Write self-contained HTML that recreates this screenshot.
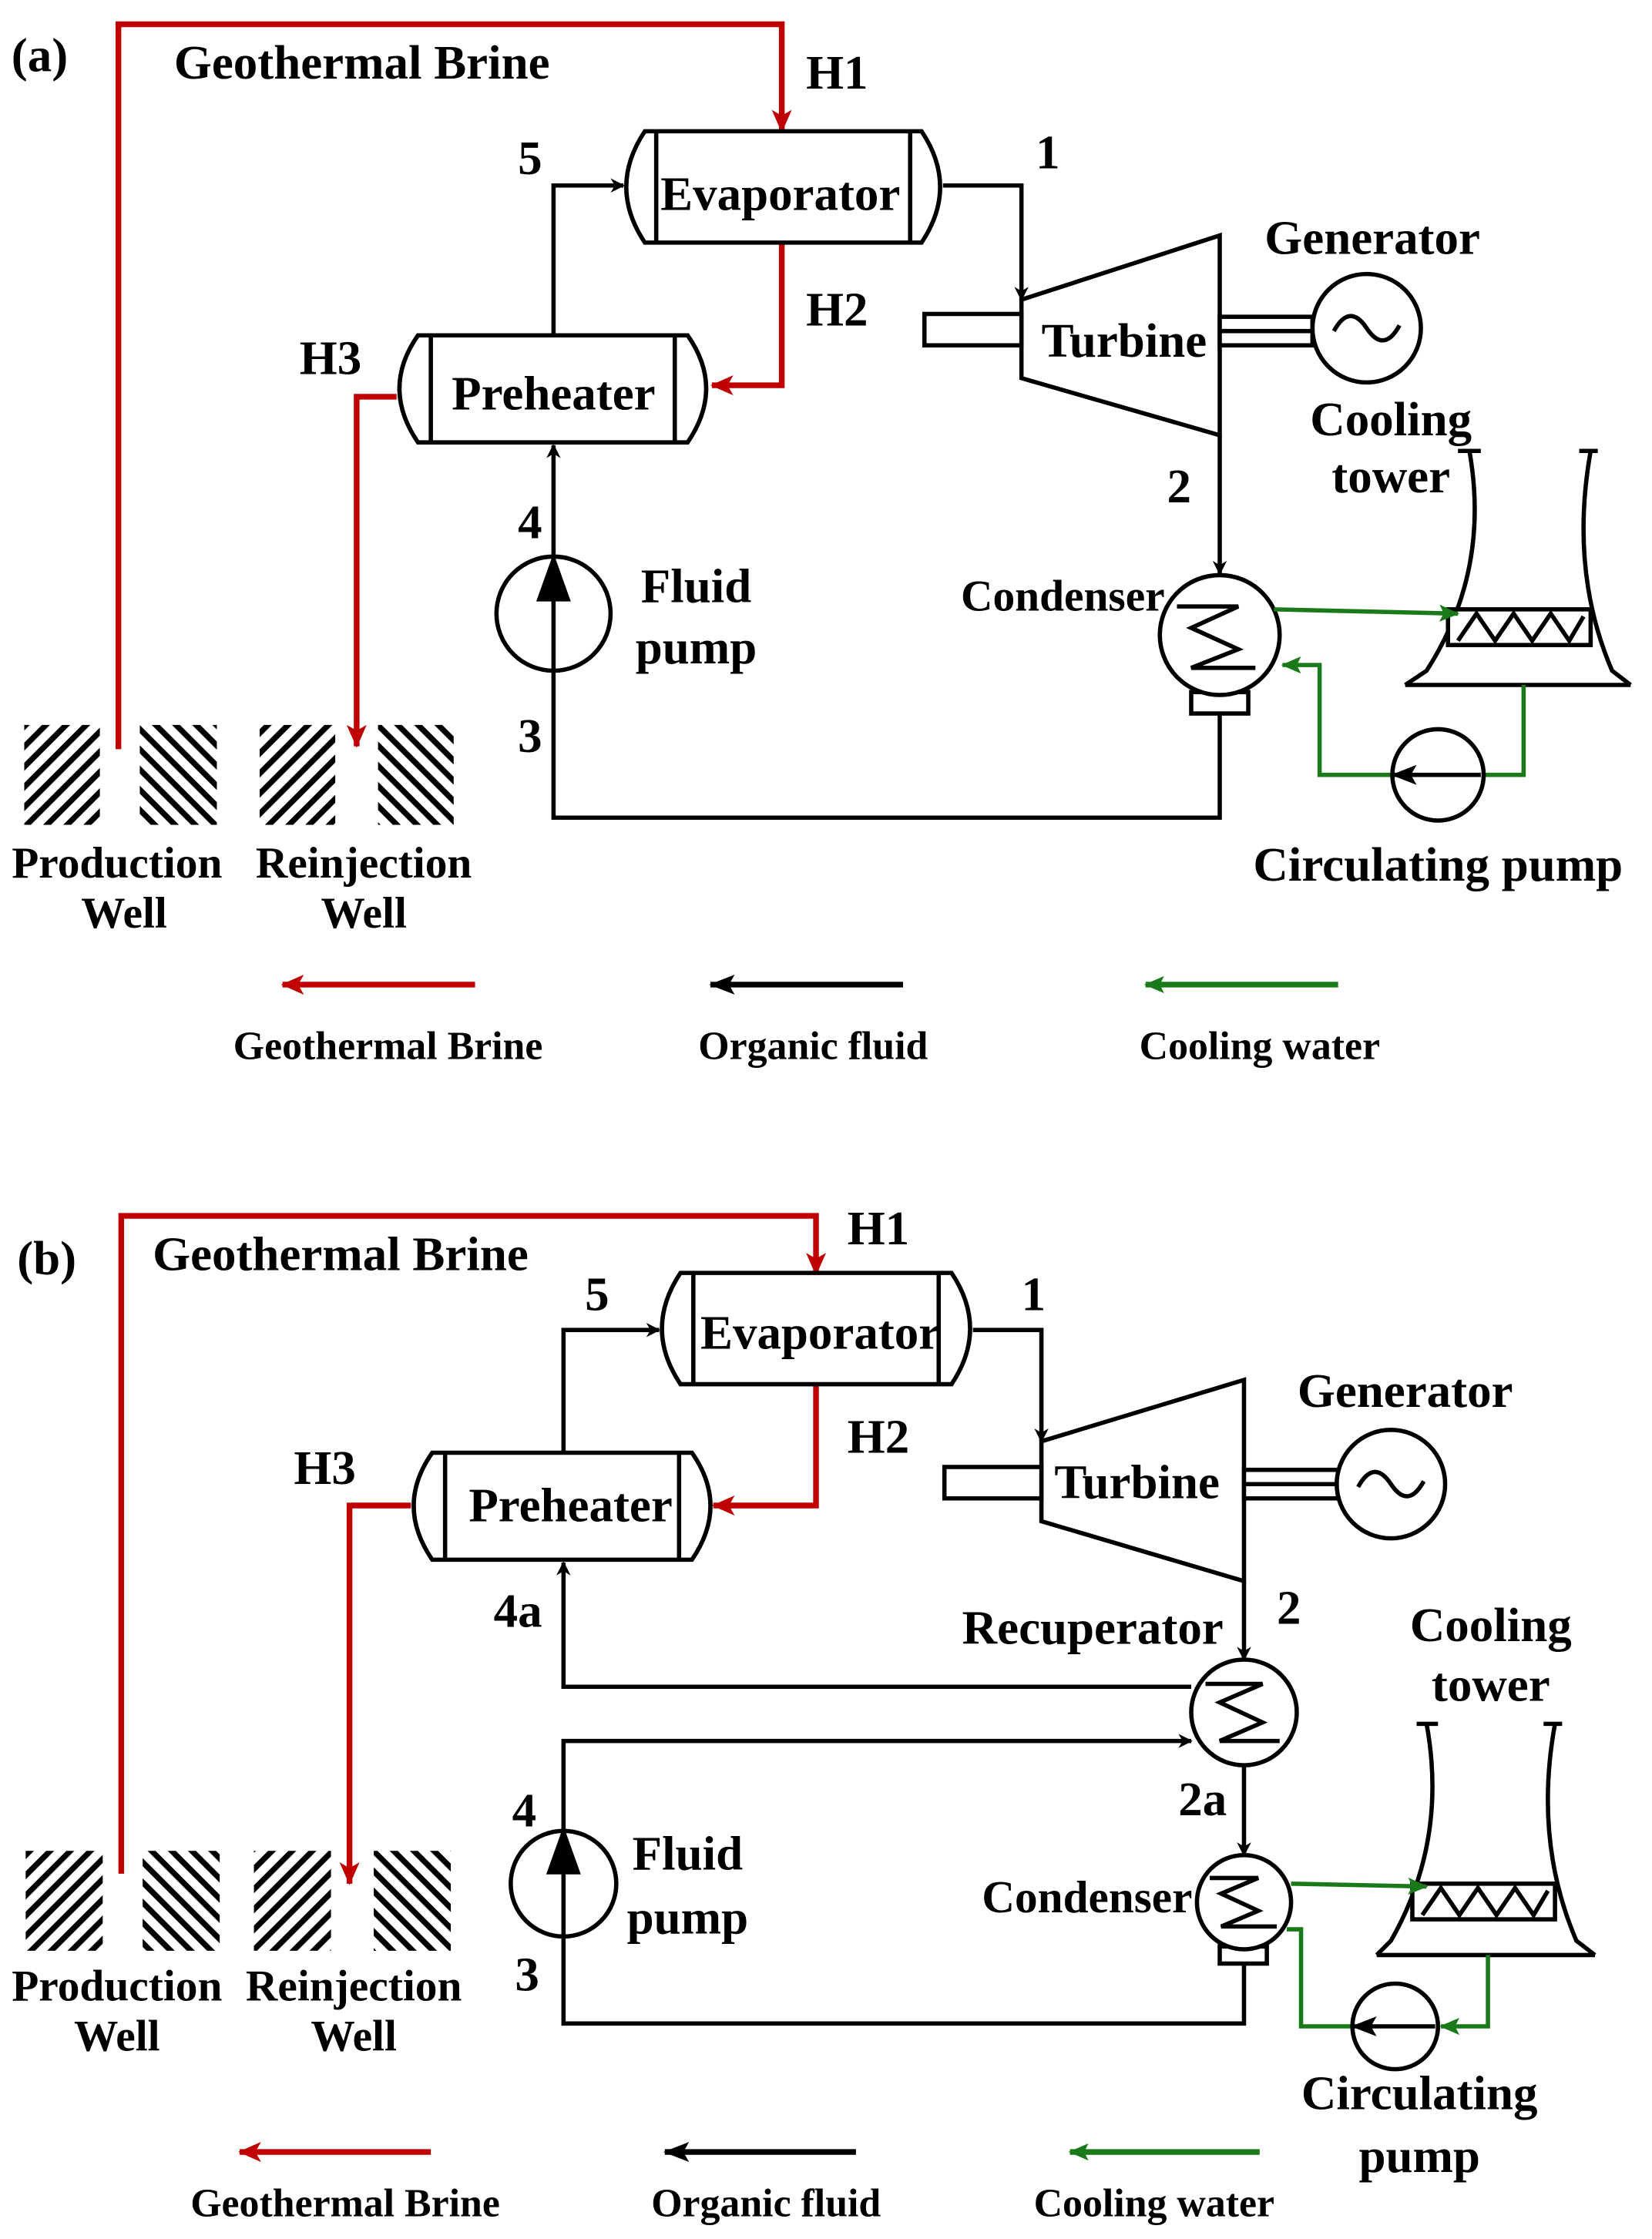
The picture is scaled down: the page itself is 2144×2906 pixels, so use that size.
<!DOCTYPE html>
<html><head><meta charset="utf-8"><style>
html,body{margin:0;padding:0;background:#fff;}
svg{display:block;}
text{font-family:"Liberation Serif",serif;font-weight:bold;fill:#000;}
</style></head><body>
<svg width="2144" height="2906" viewBox="0 0 1158 1569" preserveAspectRatio="none" xmlns="http://www.w3.org/2000/svg">
<defs>
<marker id="ak" markerWidth="10" markerHeight="10" refX="9" refY="5" orient="auto" markerUnits="userSpaceOnUse"><path d="M0,0 L10,5 L0,10 L3,5 Z" fill="#000"/></marker>
<marker id="ar" markerWidth="16" markerHeight="14" refX="15" refY="7" orient="auto" markerUnits="userSpaceOnUse"><path d="M0,0 L16,7 L0,14 L4,7 Z" fill="#c00000"/></marker>
<marker id="ag" markerWidth="14" markerHeight="12" refX="13" refY="6" orient="auto" markerUnits="userSpaceOnUse"><path d="M0,0 L14,6 L0,12 L3,6 Z" fill="#1a7a1a"/></marker>
<marker id="akb" markerWidth="18" markerHeight="14" refX="17" refY="7" orient="auto" markerUnits="userSpaceOnUse"><path d="M0,0 L18,7 L0,14 L4,7 Z" fill="#000"/></marker>
<pattern id="h1" width="10" height="10" patternUnits="userSpaceOnUse" patternTransform="rotate(-45)"><rect width="10" height="10" fill="#fff"/><rect width="10" height="4" fill="#000"/></pattern>
<pattern id="h2" width="10" height="10" patternUnits="userSpaceOnUse" patternTransform="rotate(45)"><rect width="10" height="10" fill="#fff"/><rect width="10" height="4" fill="#000"/></pattern>
</defs>

<g fill="none" stroke="#000" stroke-width="3">
<!-- ============ PANEL A ============ -->
<rect x="17" y="508" width="53" height="70" fill="url(#h1)" stroke="none"/>
<rect x="98" y="508" width="54" height="70" fill="url(#h2)" stroke="none"/>
<rect x="182" y="508" width="53" height="70" fill="url(#h1)" stroke="none"/>
<rect x="265" y="508" width="53" height="70" fill="url(#h2)" stroke="none"/>
<polyline points="83,525 83,17 548,17 548,92" stroke="#c00000" stroke-width="4" marker-end="url(#ar)"/>
<polyline points="548,170 548,270 499,270" stroke="#c00000" stroke-width="4" marker-end="url(#ar)"/>
<polyline points="278,278 250,278 250,523" stroke="#c00000" stroke-width="4" marker-end="url(#ar)"/>
<path d="M452,92 L646,92 Q672,131 646,170 L452,170 Q426,131 452,92 Z" fill="#fff"/>
<line x1="460" y1="92" x2="460" y2="170"/><line x1="638" y1="92" x2="638" y2="170"/>
<path d="M293,235 L482,235 Q508,272 482,310 L293,310 Q267,272 293,235 Z" fill="#fff"/>
<line x1="302" y1="235" x2="302" y2="310"/><line x1="473" y1="235" x2="473" y2="310"/>
<polyline points="661,130 716,130 716,210" marker-end="url(#ak)"/>
<polyline points="388,235 388,130 437,130" marker-end="url(#ak)"/>
<polyline points="388,390 388,312" marker-end="url(#ak)"/>
<polyline points="388,470 388,573 855,573 855,500"/>
<polyline points="855,305 855,402" marker-end="url(#ak)"/>
<polygon points="716,210 855,165 855,305 716,265" fill="#fff"/>
<rect x="648" y="220" width="68" height="22" fill="#fff"/>
<rect x="855" y="222" width="65" height="20" fill="#fff"/>
<line x1="855" y1="232" x2="920" y2="232"/>
<circle cx="958" cy="230" r="38" fill="#fff"/>
<path d="M935,232 Q946,212 958,230 Q970,248 981,228"/>
<circle cx="388" cy="430" r="40" fill="#fff"/>
<line x1="388" y1="470" x2="388" y2="405"/>
<path d="M378,420 L388,392 L398,420 Z" fill="#000"/>
<rect x="835" y="485" width="40" height="15" fill="#fff"/>
<circle cx="855" cy="445" r="42" fill="#fff"/>
<path d="M825,425 L868,425 L835,440 L868,455 L835,468 L880,468"/>
<path d="M1030,316 Q1045,400 1000,470 L985,480 M1115,316 Q1100,400 1130,470 L1143,480"/>
<line x1="1022" y1="316" x2="1038" y2="316"/><line x1="1107" y1="316" x2="1120" y2="316"/>
<line x1="985" y1="480" x2="1143" y2="480"/>
<rect x="1015" y="427" width="100" height="25" fill="#fff"/>
<path d="M1022,449 L1035,430 L1048,449 L1061,430 L1074,449 L1087,430 L1100,449 L1110,432"/>
<polyline points="893,427 1022,430" stroke="#1a7a1a" marker-end="url(#ag)"/>
<polyline points="1068,480 1068,543 1040,543" stroke="#1a7a1a"/>
<polyline points="976,543 925,543 925,466 899,466" stroke="#1a7a1a" marker-end="url(#ag)"/>
<circle cx="1008" cy="543" r="32" fill="#fff"/>
<line x1="1038" y1="543" x2="976" y2="543" marker-end="url(#akb)"/>
<line x1="333" y1="690" x2="198" y2="690" stroke="#c00000" stroke-width="4" marker-end="url(#ar)"/>
<line x1="633" y1="690" x2="498" y2="690" stroke-width="4" marker-end="url(#akb)"/>
<line x1="938" y1="690" x2="803" y2="690" stroke="#1a7a1a" stroke-width="4" marker-end="url(#ag)"/>

<!-- ============ PANEL B ============ -->
<rect x="18" y="1297" width="54" height="70" fill="url(#h1)" stroke="none"/>
<rect x="100" y="1297" width="54" height="70" fill="url(#h2)" stroke="none"/>
<rect x="178" y="1297" width="54" height="70" fill="url(#h1)" stroke="none"/>
<rect x="262" y="1297" width="54" height="70" fill="url(#h2)" stroke="none"/>
<polyline points="85,1313 85,852 572,852 572,893" stroke="#c00000" stroke-width="4" marker-end="url(#ar)"/>
<polyline points="572,970 572,1055 500,1055" stroke="#c00000" stroke-width="4" marker-end="url(#ar)"/>
<polyline points="288,1055 245,1055 245,1320" stroke="#c00000" stroke-width="4" marker-end="url(#ar)"/>
<path d="M477,892 L667,892 Q693,931 667,970 L477,970 Q451,931 477,892 Z" fill="#fff"/>
<line x1="486" y1="892" x2="486" y2="970"/><line x1="658" y1="892" x2="658" y2="970"/>
<path d="M303,1018 L485,1018 Q511,1055 485,1093 L303,1093 Q277,1055 303,1018 Z" fill="#fff"/>
<line x1="312" y1="1018" x2="312" y2="1093"/><line x1="476" y1="1018" x2="476" y2="1093"/>
<polyline points="682,932 730,932 730,1010" marker-end="url(#ak)"/>
<polyline points="395,1018 395,932 462,932" marker-end="url(#ak)"/>
<polyline points="835,1182 395,1182 395,1095" marker-end="url(#ak)"/>
<polyline points="395,1283 395,1220 835,1220" marker-end="url(#ak)"/>
<polyline points="872,1108 872,1163" marker-end="url(#ak)"/>
<polyline points="872,1237 872,1300" marker-end="url(#ak)"/>
<polyline points="395,1357 395,1418 872,1418 872,1376"/>
<polygon points="730,1010 872,967 872,1108 730,1066" fill="#fff"/>
<rect x="662" y="1028" width="68" height="22" fill="#fff"/>
<rect x="872" y="1030" width="66" height="20" fill="#fff"/>
<line x1="872" y1="1040" x2="938" y2="1040"/>
<circle cx="975" cy="1040" r="38" fill="#fff"/>
<path d="M952,1042 Q963,1022 975,1040 Q987,1058 998,1038"/>
<circle cx="872" cy="1200" r="37" fill="#fff"/>
<path d="M845,1180 L885,1180 L855,1193 L885,1207 L855,1220 L897,1220"/>
<circle cx="395" cy="1320" r="37" fill="#fff"/>
<line x1="395" y1="1357" x2="395" y2="1295"/>
<path d="M385,1312 L395,1284 L405,1312 Z" fill="#000"/>
<rect x="855" y="1364" width="33" height="12" fill="#fff"/>
<circle cx="872" cy="1333" r="33" fill="#fff"/>
<path d="M848,1316 L882,1316 L856,1327 L882,1339 L856,1350 L895,1350"/>
<path d="M1000,1208 Q1015,1290 975,1360 L965,1370 M1090,1208 Q1075,1290 1105,1360 L1118,1370"/>
<line x1="993" y1="1208" x2="1008" y2="1208"/><line x1="1082" y1="1208" x2="1095" y2="1208"/>
<line x1="965" y1="1370" x2="1118" y2="1370"/>
<rect x="990" y="1320" width="100" height="25" fill="#fff"/>
<path d="M997,1342 L1010,1323 L1023,1342 L1036,1323 L1049,1342 L1062,1323 L1075,1342 L1085,1325"/>
<polyline points="905,1320 1000,1322" stroke="#1a7a1a" marker-end="url(#ag)"/>
<polyline points="1043,1370 1043,1420 1010,1420" stroke="#1a7a1a" marker-end="url(#ag)"/>
<polyline points="902,1352 912,1352 912,1420 948,1420" stroke="#1a7a1a"/>
<circle cx="978" cy="1420" r="30" fill="#fff"/>
<line x1="1006" y1="1420" x2="948" y2="1420" marker-end="url(#akb)"/>
<line x1="302" y1="1508" x2="168" y2="1508" stroke="#c00000" stroke-width="4" marker-end="url(#ar)"/>
<line x1="600" y1="1508" x2="466" y2="1508" stroke-width="4" marker-end="url(#akb)"/>
<line x1="883" y1="1508" x2="750" y2="1508" stroke="#1a7a1a" stroke-width="4" marker-end="url(#ag)"/>
</g>

<g font-size="34">
<text x="8" y="50">(a)</text>
<text x="122" y="55">Geothermal Brine</text>
<text x="565" y="62">H1</text>
<text x="363" y="122">5</text>
<text x="726" y="118">1</text>
<text x="547" y="147" text-anchor="middle">Evaporator</text>
<text x="565" y="228">H2</text>
<text x="210" y="262">H3</text>
<text x="388" y="287" text-anchor="middle">Preheater</text>
<text x="788" y="250" text-anchor="middle">Turbine</text>
<text x="962" y="178" text-anchor="middle">Generator</text>
<text x="975" y="305" text-anchor="middle">Cooling</text>
<text x="975" y="345" text-anchor="middle">tower</text>
<text x="818" y="352">2</text>
<text x="363" y="377">4</text>
<text x="488" y="422" text-anchor="middle">Fluid</text>
<text x="488" y="465" text-anchor="middle">pump</text>
<text x="745" y="428" text-anchor="middle" font-size="31">Condenser</text>
<text x="363" y="527">3</text>
<text x="82" y="615" text-anchor="middle" font-size="31">Production</text>
<text x="87" y="650" text-anchor="middle" font-size="31">Well</text>
<text x="255" y="615" text-anchor="middle" font-size="31">Reinjection</text>
<text x="255" y="650" text-anchor="middle" font-size="31">Well</text>
<text x="1008" y="617" text-anchor="middle">Circulating pump</text>
<text x="272" y="742" text-anchor="middle" font-size="28">Geothermal Brine</text>
<text x="570" y="742" text-anchor="middle" font-size="28">Organic fluid</text>
<text x="883" y="742" text-anchor="middle" font-size="28">Cooling water</text>

<text x="12" y="893">(b)</text>
<text x="107" y="890">Geothermal Brine</text>
<text x="594" y="872">H1</text>
<text x="410" y="918">5</text>
<text x="716" y="918">1</text>
<text x="575" y="945" text-anchor="middle">Evaporator</text>
<text x="594" y="1018">H2</text>
<text x="206" y="1040">H3</text>
<text x="400" y="1066" text-anchor="middle">Preheater</text>
<text x="797" y="1050" text-anchor="middle">Turbine</text>
<text x="985" y="986" text-anchor="middle">Generator</text>
<text x="363" y="1140" text-anchor="middle">4a</text>
<text x="766" y="1152" text-anchor="middle">Recuperator</text>
<text x="895" y="1138">2</text>
<text x="1045" y="1150" text-anchor="middle">Cooling</text>
<text x="1045" y="1192" text-anchor="middle">tower</text>
<text x="843" y="1272" text-anchor="middle">2a</text>
<text x="359" y="1280">4</text>
<text x="482" y="1310" text-anchor="middle">Fluid</text>
<text x="482" y="1355" text-anchor="middle">pump</text>
<text x="762" y="1340" text-anchor="middle" font-size="32">Condenser</text>
<text x="361" y="1395">3</text>
<text x="82" y="1402" text-anchor="middle" font-size="31">Production</text>
<text x="82" y="1437" text-anchor="middle" font-size="31">Well</text>
<text x="248" y="1402" text-anchor="middle" font-size="31">Reinjection</text>
<text x="248" y="1437" text-anchor="middle" font-size="31">Well</text>
<text x="995" y="1478" text-anchor="middle">Circulating</text>
<text x="995" y="1522" text-anchor="middle">pump</text>
<text x="242" y="1553" text-anchor="middle" font-size="28">Geothermal Brine</text>
<text x="537" y="1553" text-anchor="middle" font-size="28">Organic fluid</text>
<text x="809" y="1553" text-anchor="middle" font-size="28">Cooling water</text>
</g>
</svg>
</body></html>
